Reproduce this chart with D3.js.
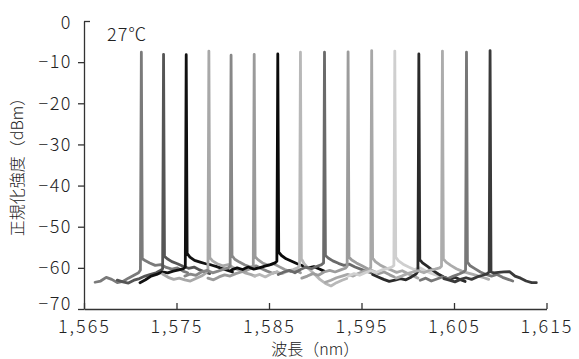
<!DOCTYPE html>
<html>
<head>
<meta charset="utf-8">
<script src="https://cdn.jsdelivr.net/npm/d3@7"></script>
<style>
  body { margin: 0; background: #fff; }
  svg text { font-family: "Noto Sans CJK JP", "Noto Sans", sans-serif; font-weight: 300; fill: #222; }
</style>
</head>
<body>
<div id="chart"></div>
<script>
// peak wavelength (nm) and peak level (dBm) of each laser line
const peakNm = [1571.2, 1573.6, 1576.05, 1578.5, 1580.9, 1583.4, 1585.95, 1588.4,
                1591.0, 1593.55, 1596.1, 1598.6, 1601.2, 1603.75, 1606.35, 1608.9];
const peakDbm = [-7.6, -8.1, -8.2, -7.3, -8.3, -8.1, -8.0, -7.6,
                 -7.6, -7.5, -7.2, -7.3, -8.0, -7.3, -7.6, -7.2];
const traceGray = ['#7a7a7a', '#555555', '#111111', '#a8a8a8', '#888888', '#9a9a9a', '#0a0a0a', '#b8b8b8',
                   '#6a6a6a', '#9c9c9c', '#a8a8a8', '#cfcfcf', '#2a2a2a', '#acacac', '#777777', '#3a3a3a'];

// offsets from the peak (nm) where the noise floor was read
const leftOffsets = [-5, -4.4, -3.8, -3.2, -2.6, -2, -1.4, -0.8, -0.3, -0.1];
const rightOffsets = [0.1, 0.4, 0.9, 1.5, 2.1, 2.7, 3.3, 3.9, 4.5, 5];

// noise floor (dBm) left and right of each peak
const floorLeft = [
  [-63.5, -63.2, -62.3, -62.8, -63.6, -63.3, -62.5, -61.8, -61.2, -60.5],
  [-63.0, -63.4, -63.7, -63.0, -62.6, -62.0, -61.6, -61.2, -60.6, -60.2],
  [-63.6, -62.9, -62.0, -61.6, -61.0, -61.2, -60.8, -60.5, -60.2, -59.8],
  [-61.5, -62.3, -62.8, -62.5, -62.9, -63.2, -62.6, -62.0, -61.2, -60.5],
  [-62.0, -61.5, -61.8, -61.0, -60.6, -61.2, -60.8, -60.3, -60.0, -59.6],
  [-62.5, -62.9, -62.2, -61.7, -62.0, -61.4, -61.0, -60.6, -60.1, -59.7],
  [-60.5, -60.0, -60.4, -59.8, -60.3, -60.0, -59.6, -59.2, -58.8, -58.4],
  [-62.0, -61.6, -62.2, -61.5, -61.0, -61.4, -60.8, -60.4, -60.0, -59.5],
  [-61.6, -61.0, -60.6, -61.2, -60.4, -59.8, -60.2, -59.6, -59.2, -58.8],
  [-62.5, -62.0, -61.4, -61.8, -61.0, -60.6, -61.0, -60.5, -60.1, -59.6],
  [-63.5, -63.0, -62.4, -62.0, -61.6, -62.0, -61.3, -60.8, -60.4, -59.9],
  [-62.0, -61.4, -61.8, -61.2, -60.7, -61.1, -60.5, -60.2, -59.8, -59.4],
  [-61.6, -62.2, -62.8, -63.3, -63.0, -62.6, -62.9, -62.2, -61.5, -60.8],
  [-62.5, -62.0, -61.4, -61.0, -60.7, -61.2, -60.6, -60.3, -60.0, -59.6],
  [-63.0, -62.5, -63.2, -62.7, -62.2, -62.6, -62.0, -61.5, -61.0, -60.5],
  [-62.6, -63.0, -63.4, -62.8, -62.4, -62.8, -62.2, -61.8, -61.4, -61.0]
];
const floorRight = [
  [-57.8, -58.2, -58.8, -59.4, -59.2, -59.9, -60.3, -60.0, -60.8, -61.2],
  [-57.2, -57.8, -58.5, -59.0, -59.6, -60.1, -59.8, -60.5, -61.0, -61.4],
  [-56.5, -57.4, -58.2, -58.6, -59.0, -59.3, -59.7, -60.2, -60.6, -61.0],
  [-57.5, -58.3, -59.0, -59.5, -59.2, -60.0, -60.6, -61.2, -61.6, -62.0],
  [-57.0, -57.9, -58.6, -59.3, -59.8, -59.5, -60.2, -60.8, -61.3, -61.0],
  [-57.3, -58.0, -58.8, -59.4, -59.0, -59.7, -60.4, -60.9, -60.6, -61.2],
  [-56.2, -57.0, -57.8, -58.4, -59.0, -59.5, -60.0, -59.7, -60.3, -60.8],
  [-57.8, -59.0, -60.2, -61.5, -62.8, -63.8, -64.4, -63.6, -63.0, -62.6],
  [-57.0, -57.6, -58.3, -58.9, -59.4, -59.1, -59.8, -60.3, -60.8, -61.2],
  [-57.4, -58.1, -58.8, -59.5, -60.2, -60.8, -61.4, -61.0, -61.7, -62.2],
  [-57.6, -58.5, -59.3, -60.0, -60.5, -61.1, -60.7, -61.4, -62.0, -62.5],
  [-57.4, -58.3, -59.1, -59.8, -60.4, -60.0, -60.7, -61.3, -61.8, -62.1],
  [-58.0, -58.8, -59.6, -60.6, -61.5, -62.2, -62.8, -62.3, -62.9, -63.3],
  [-57.8, -58.6, -59.4, -60.2, -60.8, -61.2, -61.6, -62.0, -62.4, -62.8],
  [-58.6, -59.5, -60.2, -61.0, -61.6, -62.0, -61.6, -62.3, -62.8, -63.2],
  [-61.0, -61.2, -61.1, -61.0, -60.9, -62.0, -62.5, -63.2, -63.6, -63.6]
];

const xTicks = [1565, 1575, 1585, 1595, 1605, 1615];
const yTicks = [0, -10, -20, -30, -40, -50, -60, -70];
const tempLabel = '27℃';

const width = 579;
const height = 359;

const x = d3.scaleLinear().domain([1565, 1615]).range([84, 546.5]);
const y = d3.scaleLinear().domain([-70, 0]).range([309, 21]);

const svg = d3.select('#chart').append('svg')
  .attr('width', width)
  .attr('height', height);

const line = d3.line()
  .x((d) => x(d[0]))
  .y((d) => y(d[1]));

// build each trace: floor left, the peak, floor right
const traces = peakNm.map((p, i) => {
  const pts = leftOffsets.map((o, j) => [p + o, floorLeft[i][j]]);
  pts.push([p, peakDbm[i]]);
  rightOffsets.forEach((o, j) => pts.push([p + o, floorRight[i][j]]));
  return { color: traceGray[i], pts: pts };
});

svg.append('g')
  .selectAll('path')
  .data(traces)
  .enter()
  .append('path')
  .attr('d', (d) => line(d.pts))
  .attr('fill', 'none')
  .attr('stroke', (d) => d.color)
  .attr('stroke-width', 2.8)
  .attr('stroke-linejoin', 'round')
  .attr('stroke-linecap', 'round');

// x axis, ticks pointing up into the plot
const xAxis = svg.append('g')
  .attr('transform', 'translate(0,' + y(-70) + ')')
  .call(d3.axisBottom(x).tickValues(xTicks).tickFormat(d3.format(',')).tickSizeInner(-6).tickSizeOuter(0).tickPadding(11));
xAxis.select('.domain').attr('stroke', '#333').attr('stroke-width', 1.3);
xAxis.selectAll('.tick line').attr('stroke', '#333').attr('stroke-width', 1.3);
xAxis.selectAll('.tick text')
  .style('font-size', '18px')
  .style('letter-spacing', '2px')
  .attr('fill', '#222');

// y axis
const yAxis = svg.append('g')
  .attr('transform', 'translate(' + x(1565) + ',0)')
  .call(d3.axisLeft(y).tickValues(yTicks).tickSizeInner(6).tickSizeOuter(0).tickPadding(6));
yAxis.select('.domain').attr('stroke', '#333').attr('stroke-width', 1.3);
yAxis.selectAll('.tick line').attr('stroke', '#333').attr('stroke-width', 1.3)
  .filter((d) => d === 0).attr('x2', 6);
yAxis.selectAll('.tick text')
  .style('font-size', '18px')
  .style('letter-spacing', '1.5px')
  .attr('fill', '#222');
yAxis.selectAll('.tick text').filter((d) => d === -70).attr('y', -5);
yAxis.selectAll('.tick text').filter((d) => d === 0).attr('y', 2);

// axis titles
svg.append('text')
  .attr('x', x(1590))
  .attr('y', 355)
  .attr('text-anchor', 'middle')
  .style('font-size', '16px')
  .text('波長（nm）');

svg.append('text')
  .attr('transform', 'translate(23,163) rotate(-90)')
  .attr('text-anchor', 'middle')
  .style('font-size', '16px')
  .text('正規化強度（dBm）');

svg.append('text')
  .attr('x', 107)
  .attr('y', 41)
  .style('font-size', '18px')
  .style('letter-spacing', '1px')
  .text(tempLabel);
</script>
</body>
</html>
